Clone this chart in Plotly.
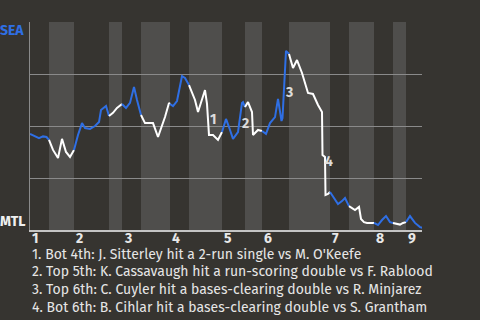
import plotly.graph_objects as go

# x = pitch number of the game, sea_wp = Seattle win probability (%)
pitch = [0, 5, 9, 13, 16.5, 19,
         23, 28, 32, 36, 40, 44,
         48, 52, 55, 60, 65, 69, 71, 76, 79,
         83, 87, 92,
         96, 100, 104, 107, 111,
         115, 123, 128, 135, 139, 140,
         143, 147, 152, 155, 159,
         165, 168, 175, 177, 179, 183, 188, 192,
         196, 199, 203, 208, 212, 213, 215,
         218, 222, 223, 228, 232,
         236, 240, 245, 248, 250, 251.5, 252.5, 254, 256, 259,
         263, 267, 272, 278, 283, 288, 292, 292.5, 295, 295.5, 298, 300,
         305, 308, 312, 315, 319,
         325, 329, 331, 334, 337, 344,
         348, 352, 356, 360, 363,
         366, 370, 373, 376,
         380, 385, 390, 393]
sea_wp = [46.2, 45.2, 44.2, 45.0, 44.7, 43.3,
          38.5, 34.6, 43.8, 37.5, 35.1, 38.5,
          45.7, 51.4, 49.0, 48.6, 50.0, 51.9, 57.7, 59.6, 54.8,
          56.3, 58.7, 60.6,
          58.7, 61.1, 68.8, 62.5, 55.3,
          51.4, 51.4, 44.7, 54.3, 61.1, 60.6,
          59.6, 62.0, 74.0, 73.1, 69.7,
          62.5, 56.7, 67.3, 60.6, 45.7, 45.7, 43.3, 47.1,
          53.4, 49.5, 43.8, 47.1, 61.1, 61.5, 59.1,
          61.5, 56.7, 45.7, 48.1, 47.6,
          46.2, 51.4, 54.3, 63.0, 56.7, 52.4, 53.8, 68.3, 86.1, 84.6,
          77.9, 81.7, 75.5, 65.9, 65.4, 60.1, 56.7, 36.1, 35.1, 16.8, 17.3, 18.3,
          14.4, 12.5, 13.9, 15.4, 11.5,
          9.6, 11.1, 5.3, 3.8, 3.4, 3.4,
          2.4, 4.8, 6.7, 3.8, 3.4,
          3.1, 2.6, 3.4, 3.8,
          6.7, 3.4, 1.4, 1.0]

# half-inning boundaries (pitch numbers): top1, bot1, top2, ...
half_bounds = [0, 19, 44, 79, 92, 111, 140, 159, 192, 215, 232, 259, 300, 319, 344, 363, 376, 393]
inning_labels = ["1", "2", "3", "4", "5", "6", "7", "8", "9"]

# key plays
key_x = [183, 215, 259, 299]
key_wp = [52.9, 51.0, 66.3, 32.7]
key_labels = ["1", "2", "3", "4"]
key_notes = [
    "1. Bot 4th: J. Sitterley hit a 2-run single vs M. O'Keefe",
    "2. Top 5th: K. Cassavaugh hit a run-scoring double vs F. Rablood",
    "3. Top 6th: C. Cuyler hit a bases-clearing double vs R. Minjarez",
    "4. Bot 6th: B. Cihlar hit a bases-clearing double vs S. Grantham",
]

BG = "#363430"
BAND = "#4f4e4c"
BLUE = "#2f6fe4"
WHITE = "#ffffff"
FONT = "Fira Sans, Noto Sans, Open Sans, sans-serif"

fig = go.Figure()

# line segments per half inning
for i in range(len(half_bounds) - 1):
    s, e = half_bounds[i], half_bounds[i + 1]
    xs = [x for x in pitch if s <= x <= e]
    ys = [y for x, y in zip(pitch, sea_wp) if s <= x <= e]
    fig.add_trace(go.Scatter(
        x=xs, y=ys, mode="lines", cliponaxis=False,
        line=dict(color=BLUE if i % 2 == 0 else WHITE, width=2),
        hoverinfo="skip", showlegend=False))

shapes = []
for i in range(1, len(half_bounds) - 1, 2):
    shapes.append(dict(type="rect", xref="x", yref="y",
                       x0=half_bounds[i], x1=half_bounds[i + 1], y0=0, y1=100,
                       fillcolor=BAND, line=dict(width=0), layer="below"))

annotations = []
# inning labels at start of each inning
for k, lab in enumerate(inning_labels):
    annotations.append(dict(x=half_bounds[2 * k], y=-0.04, xref="x", yref="paper",
                            text="<b>" + lab + "</b>", showarrow=False,
                            xanchor="left", yanchor="middle", xshift=0,
                            font=dict(family=FONT, size=14, color="#e8e8e8")))
# key play markers
for x, y, lab in zip(key_x, key_wp, key_labels):
    annotations.append(dict(x=x, y=y, xref="x", yref="y", text="<b>" + lab + "</b>",
                            showarrow=False, font=dict(family=FONT, size=14, color="#dcdcdc")))
# team labels
annotations.append(dict(x=0, y=0.9615, xref="paper", yref="paper", text="<b>SEA</b>",
                        showarrow=False, xanchor="right", yanchor="middle", xshift=-4,
                        font=dict(family=FONT, size=14, color=BLUE)))
annotations.append(dict(x=0, y=0.043, xref="paper", yref="paper", text="<b>MTL</b>",
                        showarrow=False, xanchor="right", yanchor="middle", xshift=-2,
                        font=dict(family=FONT, size=14, color="#f0f0f0")))
# footnotes
for j, note in enumerate(key_notes):
    annotations.append(dict(x=0.0, y=-0.1154 - 0.0865 * j, xref="paper", yref="paper",
                            text=note, showarrow=False, xanchor="left", yanchor="middle",
                            font=dict(family=FONT, size=14, color="#e6e6e6")))

fig.update_layout(
    width=480, height=320,
    margin=dict(l=30, r=58, t=22, b=90),
    paper_bgcolor=BG, plot_bgcolor=BG,
    shapes=shapes, annotations=annotations,
    showlegend=False,
    xaxis=dict(range=[0, 392], showgrid=False, zeroline=False, showticklabels=False,
               ticks="", showline=True, linecolor="#c4c4c4", linewidth=2, fixedrange=True),
    yaxis=dict(range=[0, 100], tickvals=[25, 50, 75, 100], showgrid=True,
               gridcolor="#8a8a8a", gridwidth=1, zeroline=False, showticklabels=False,
               ticks="", showline=True, linecolor="#8a8a8a", linewidth=1, fixedrange=True),
)

fig.write_html("out.html")
